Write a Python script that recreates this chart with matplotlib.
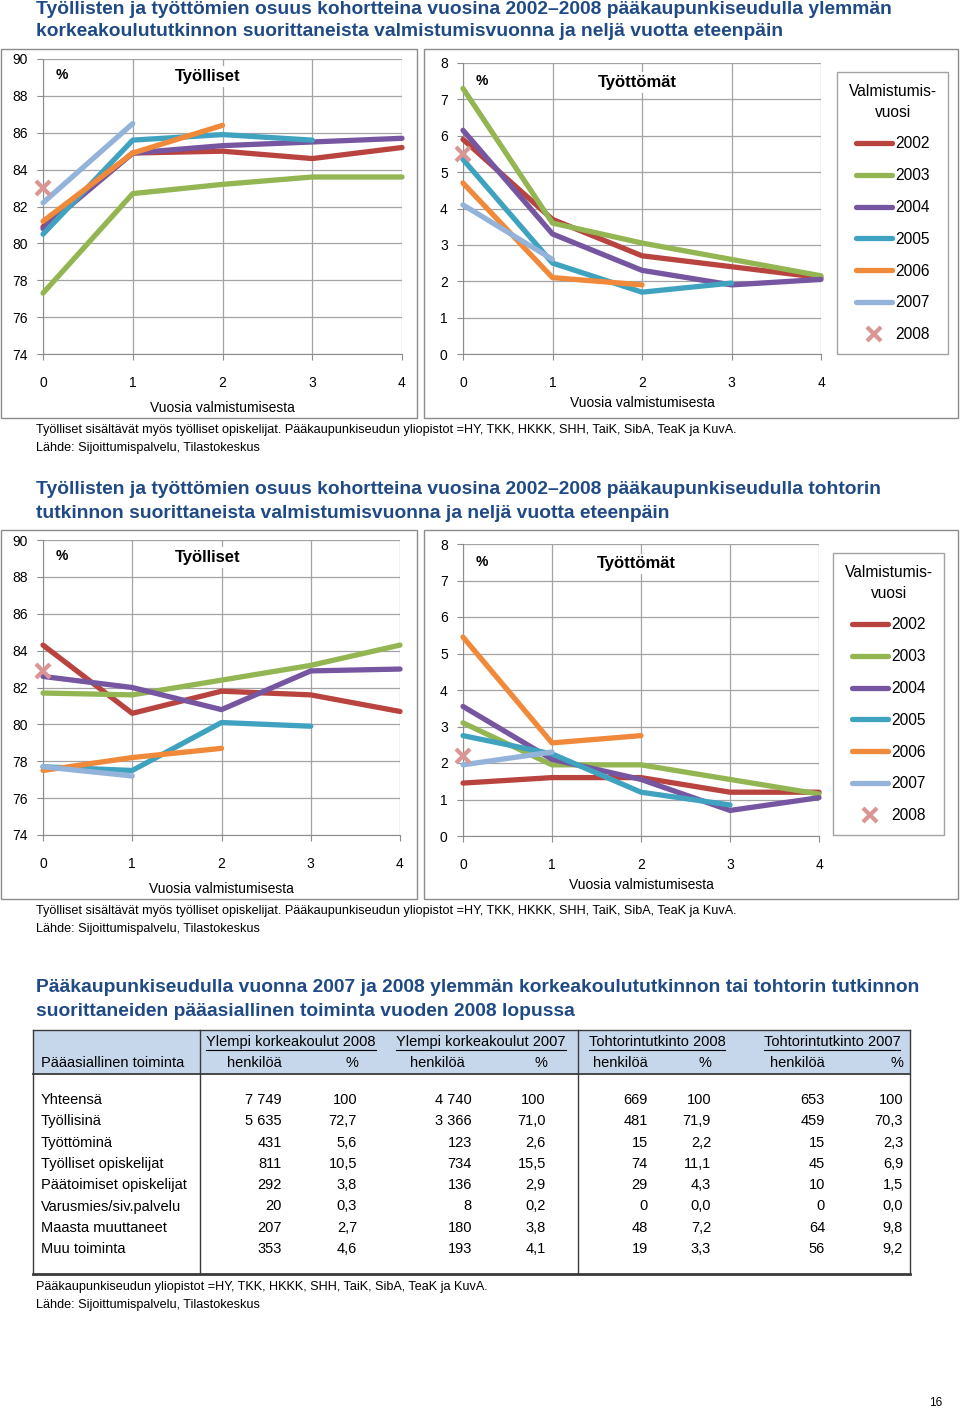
import matplotlib
matplotlib.use('Agg')

from matplotlib import pyplot as plt
from matplotlib.patches import Rectangle
import numpy as np

plt.rcParams['font.family'] = ['Liberation Sans', 'DejaVu Sans']

W, H = 960, 1411

years_after = [0, 1, 2, 3, 4]
cohorts = ['2002', '2003', '2004', '2005', '2006', '2007', '2008']
colors = ['#B8433F', '#93B552', '#7656A0', '#3FA3C0', '#F0893A', '#94B3DB', '#D99694']

# ylempi korkeakoulututkinto, one list per cohort (2002..2008)
ykk_tyolliset = [
    [80.9, 84.9, 85.0, 84.6, 85.2],
    [77.3, 82.7, 83.2, 83.6, 83.6],
    [80.8, 84.9, 85.3, 85.5, 85.7],
    [80.5, 85.6, 85.9, 85.6],
    [81.2, 84.9, 86.4],
    [82.2, 86.5],
    [83.0],
]
ykk_tyottomat = [
    [5.9, 3.7, 2.7, 2.4, 2.1],
    [7.3, 3.6, 3.05, 2.6, 2.15],
    [6.15, 3.3, 2.3, 1.9, 2.05],
    [5.35, 2.5, 1.7, 1.95],
    [4.7, 2.1, 1.9],
    [4.1, 2.6],
    [5.5],
]
# tohtorin tutkinto
toht_tyolliset = [
    [84.3, 80.6, 81.8, 81.6, 80.7],
    [81.7, 81.6, 82.4, 83.2, 84.3],
    [82.6, 82.0, 80.8, 82.9, 83.0],
    [77.7, 77.5, 80.1, 79.9],
    [77.5, 78.2, 78.7],
    [77.7, 77.2],
    [82.9],
]
toht_tyottomat = [
    [1.45, 1.6, 1.6, 1.2, 1.2],
    [3.1, 1.95, 1.95, 1.55, 1.15],
    [3.55, 2.1, 1.55, 0.7, 1.05],
    [2.75, 2.25, 1.2, 0.85],
    [5.45, 2.55, 2.75],
    [1.95, 2.3],
    [2.2],
]

# table
row_labels = ['Yhteensä', 'Työllisinä', 'Työttöminä', 'Työlliset opiskelijat',
              'Päätoimiset opiskelijat', 'Varusmies/siv.palvelu', 'Maasta muuttaneet', 'Muu toiminta']
group_labels = ['Ylempi korkeakoulut 2008', 'Ylempi korkeakoulut 2007',
                'Tohtorintutkinto 2008', 'Tohtorintutkinto 2007']
ykk2008_n = [7749, 5635, 431, 811, 292, 20, 207, 353]
ykk2008_pct = [100, 72.7, 5.6, 10.5, 3.8, 0.3, 2.7, 4.6]
ykk2007_n = [4740, 3366, 123, 734, 136, 8, 180, 193]
ykk2007_pct = [100, 71.0, 2.6, 15.5, 2.9, 0.2, 3.8, 4.1]
toht2008_n = [669, 481, 15, 74, 29, 0, 48, 19]
toht2008_pct = [100, 71.9, 2.2, 11.1, 4.3, 0.0, 7.2, 3.3]
toht2007_n = [653, 459, 15, 45, 10, 0, 64, 56]
toht2007_pct = [100, 70.3, 2.3, 6.9, 1.5, 0.0, 9.8, 9.2]

title_col = '#1F4A85'
grid_col = '#A3A3A3'
axis_col = '#8C8C8C'

fig = plt.figure(figsize=(W / 100, H / 100), dpi=100)
bg = fig.add_axes([0, 0, 1, 1])
bg.set_xlim(0, W)
bg.set_ylim(H, 0)
bg.axis('off')


def add_ax(x0, x1, ytop, ybot):
    return fig.add_axes([x0 / W, 1 - ybot / H, (x1 - x0) / W, (ybot - ytop) / H])


def draw_chart(ax, series, ylim, ystep, title, tx, ty, labelpad):
    for vals, c, lab in zip(series[:-1], colors, cohorts):
        ax.plot(years_after[:len(vals)], vals, color=c, lw=3.8, label=lab,
                solid_capstyle='round', solid_joinstyle='round', clip_on=False, zorder=3)
    ax.plot(years_after[:len(series[-1])], series[-1], ls='none', marker='x', ms=10, mew=3,
            color=colors[-1], label=cohorts[-1], clip_on=False, zorder=4)
    ax.set_xlim(0, 4)
    ax.set_ylim(*ylim)
    ax.set_xticks(years_after)
    ax.set_yticks(np.arange(ylim[0], ylim[1] + 0.01, ystep))
    ax.grid(True, color=grid_col, lw=0.9)
    ax.set_axisbelow(True)
    for s in ['top', 'right']:
        ax.spines[s].set_visible(False)
    for s in ['left', 'bottom']:
        ax.spines[s].set_color(axis_col)
    ax.tick_params(direction='out', color=axis_col, labelcolor='black', labelsize=10, length=4, pad=7)
    ax.tick_params(axis='x', pad=12)
    ax.set_xlabel('Vuosia valmistumisesta', fontsize=10, labelpad=labelpad)
    ax.text(0.035, ty, '%', transform=ax.transAxes, fontweight='bold', fontsize=10, va='center')
    ax.text(tx, ty - 0.005, title, transform=ax.transAxes, ha='center', va='center',
            fontweight='bold', fontsize=12, bbox=dict(fc='white', ec='none', pad=2))


def add_legend(ax, x0, ytop):
    leg = ax.legend(loc='upper left', bbox_to_anchor=(x0 / W, 1 - ytop / H),
                    bbox_transform=fig.transFigure, title='Valmistumis-\nvuosi',
                    fontsize=11.2, title_fontsize=11.2, frameon=True, fancybox=False,
                    edgecolor=axis_col, labelspacing=1.08, handlelength=2.3,
                    handletextpad=0.2, borderpad=0.75, borderaxespad=0)
    leg.get_frame().set_linewidth(1)
    leg.get_title().set_multialignment('center')
    leg.get_title().set_linespacing(1.5)


def panel_boxes(ytop, ybot):
    bg.add_patch(Rectangle((1, ytop), 416, ybot - ytop, fill=False, ec=axis_col, lw=1))
    bg.add_patch(Rectangle((424, ytop), 534, ybot - ytop, fill=False, ec=axis_col, lw=1))


def two_line_title(y, line1, line2):
    bg.text(36, y, line1, color=title_col, fontweight='bold', fontsize=13.9, va='center')
    bg.text(36, y + 23, line2, color=title_col, fontweight='bold', fontsize=13.9, va='center')


def notes(y, lines):
    for i, t in enumerate(lines):
        bg.text(36, y + 18 * i, t, fontsize=9.1, va='center')


note1 = 'Työlliset sisältävät myös työlliset opiskelijat. Pääkaupunkiseudun yliopistot =HY, TKK, HKKK, SHH, TaiK, SibA, TeaK ja KuvA.'
note_src = 'Lähde: Sijoittumispalvelu, Tilastokeskus'

# ---- upper charts ----
two_line_title(9, 'Työllisten ja työttömien osuus kohortteina vuosina 2002\u20132008 pääkaupunkiseudulla ylemmän',
               'korkeakoulututkinnon suorittaneista valmistumisvuonna ja neljä vuotta eteenpäin')
panel_boxes(49, 418)
ax1 = add_ax(43, 402, 59, 354)
draw_chart(ax1, ykk_tyolliset, (74, 90), 2, 'Työlliset', 0.46, 0.945, 8)
ax2 = add_ax(463, 821, 63, 354)
draw_chart(ax2, ykk_tyottomat, (0, 8), 1, 'Työttömät', 0.486, 0.937, 4)
add_legend(ax2, 837, 72)
notes(430, [note1, note_src])

# ---- lower charts ----
two_line_title(490, 'Työllisten ja työttömien osuus kohortteina vuosina 2002\u20132008 pääkaupunkiseudulla tohtorin',
               'tutkinnon suorittaneista valmistumisvuonna ja neljä vuotta eteenpäin')
panel_boxes(530, 899)
ax3 = add_ax(43, 400, 540, 835)
draw_chart(ax3, toht_tyolliset, (74, 90), 2, 'Työlliset', 0.46, 0.945, 8)
ax4 = add_ax(463, 819, 544, 836)
draw_chart(ax4, toht_tyottomat, (0, 8), 1, 'Työttömät', 0.486, 0.937, 4)
add_legend(ax4, 833, 553)
notes(911, [note1, note_src])

# ---- table ----
two_line_title(988, 'Pääkaupunkiseudulla vuonna 2007 ja 2008 ylemmän korkeakoulututkinnon tai tohtorin tutkinnon',
               'suorittaneiden pääasiallinen toiminta vuoden 2008 lopussa')

tx0, tx1, ty0, ty_head, ty1 = 33, 910, 1030, 1074, 1274
bg.add_patch(Rectangle((tx0, ty0), tx1 - tx0, ty_head - ty0, fc='#C6D6EB', ec='none'))
line_col = '#3A3A3A'
bg.plot([tx0, tx1], [ty0, ty0], color=line_col, lw=1)
bg.plot([tx0, tx1], [ty_head, ty_head], color=line_col, lw=1.3)
bg.plot([tx0, tx1], [ty1, ty1], color=line_col, lw=2)
for xv in [tx0, 200, 578, tx1]:
    bg.plot([xv, xv], [ty0, ty1], color=line_col, lw=1)

fs_tab = 10.5
group_centers = [291, 481, 657, 832]
n_centers = [254, 437, 620, 797]
pct_centers = [352, 541, 705, 897]
n_right = [282, 472, 648, 825]
pct_right = [357, 546, 711, 903]

bg.text(41, 1063, 'Pääasiallinen toiminta', fontsize=fs_tab, va='center')
group_texts = []
for lab, xc in zip(group_labels, group_centers):
    group_texts.append(bg.text(xc, 1042, lab, fontsize=fs_tab, va='center', ha='center'))
for xc in n_centers:
    bg.text(xc, 1063, 'henkilöä', fontsize=fs_tab, va='center', ha='center')
for xc in pct_centers:
    bg.text(xc, 1063, '%', fontsize=fs_tab, va='center', ha='center')


def fmt_n(v):
    return f'{v:,}'.replace(',', ' ')


def fmt_p(v):
    return '100' if v == 100 else f'{v:.1f}'.replace('.', ',')


n_cols = [ykk2008_n, ykk2007_n, toht2008_n, toht2007_n]
p_cols = [ykk2008_pct, ykk2007_pct, toht2008_pct, toht2007_pct]
row_y0, row_step = 1100, 21.3
for i, lab in enumerate(row_labels):
    y = row_y0 + i * row_step
    bg.text(41, y, lab, fontsize=fs_tab, va='center')
    for col, xr in zip(n_cols, n_right):
        bg.text(xr, y, fmt_n(col[i]), fontsize=fs_tab, va='center', ha='right')
    for col, xr in zip(p_cols, pct_right):
        bg.text(xr, y, fmt_p(col[i]), fontsize=fs_tab, va='center', ha='right')

notes(1287, ['Pääkaupunkiseudun yliopistot =HY, TKK, HKKK, SHH, TaiK, SibA, TeaK ja KuvA.', note_src])
bg.text(936, 1403, '16', fontsize=8.5, va='center', ha='center')

# underline group headers
fig.canvas.draw()
renderer = fig.canvas.get_renderer()
inv = bg.transData.inverted()
for t in group_texts:
    bb = t.get_window_extent(renderer)
    (x0, _), (x1, _) = inv.transform([(bb.x0, bb.y0), (bb.x1, bb.y0)])
    bg.plot([x0, x1], [1050, 1050], color='black', lw=0.8)

fig.savefig('out.png', dpi=100)
